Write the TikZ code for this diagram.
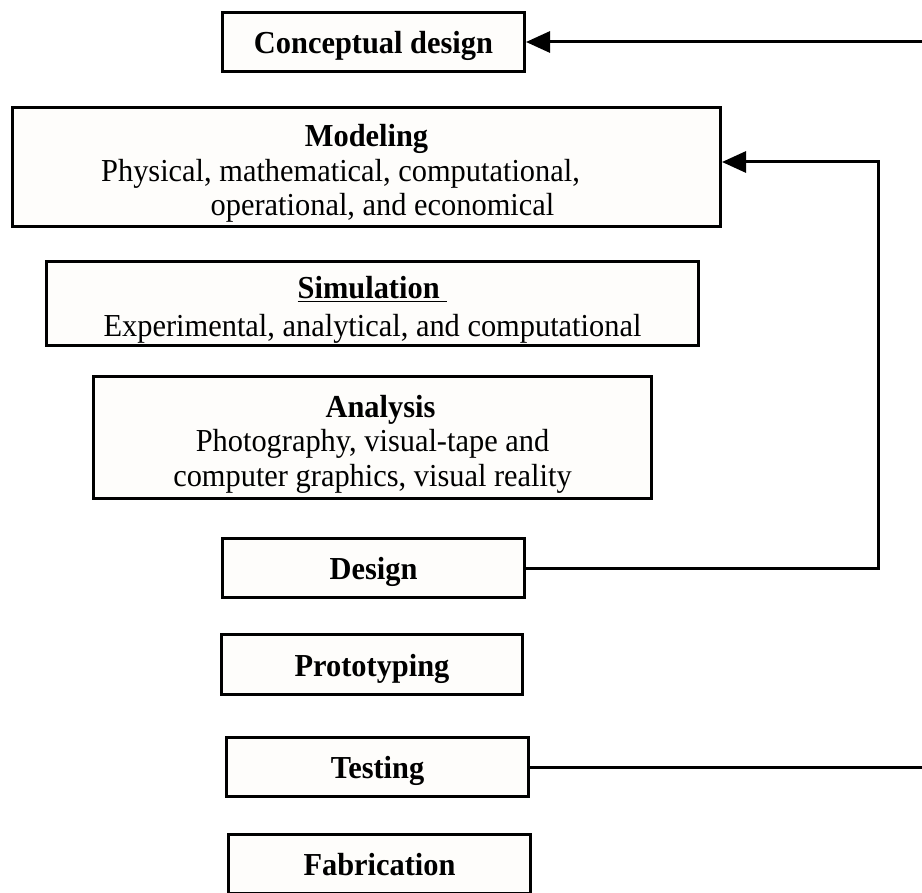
\documentclass[tikz,border=0pt]{standalone}
\usepackage{fontspec}
\setmainfont{Liberation Serif}[FakeStretch=0.95]
\usetikzlibrary{arrows.meta}
\definecolor{boxfill}{RGB}{254,253,251}
\begin{document}
\begin{tikzpicture}[x=1pt,y=-1pt,
  box/.style={draw, line width=3pt, fill=boxfill, inner sep=0pt, align=center,
    font=\fontsize{32}{34.5}\selectfont, text depth=0pt},
  single/.style={box, minimum width=302pt, minimum height=59pt, text height=23pt},
  conn/.style={line width=3pt},
  arr/.style={conn, -{Triangle[length=24pt,width=21pt]}}]
\useasboundingbox (0,0) rectangle (922,893);
\clip (0,0) rectangle (922,893);
\node[single] (concept) at (373.5,42) {\textbf{Conceptual design}};
\node[box, minimum width=708pt, minimum height=119pt, text height=98pt] (model) at (366.5,167)
  {\textbf{Modeling}\\ Physical, mathematical, computational,\rule{52pt}{0pt}\\ \rule{32pt}{0pt}operational, and economical};
\node[box, minimum width=652pt, minimum height=84pt, text height=67pt] (sim) at (372.5,303.5)
  {\underline{\textbf{Simulation}\ }\\[3.5pt] Experimental, analytical, and computational};
\node[box, minimum width=558pt, minimum height=122pt, text height=97pt] (anal) at (372.5,437.5)
  {\rule{16pt}{0pt}\textbf{Analysis}\\ Photography, visual-tape and\\ computer graphics, visual reality};
\node[single] (design) at (373.5,568) {\textbf{Design}};
\node[single, minimum width=301pt, minimum height=60pt] (proto) at (372,664.5) {\textbf{Prototyping}};
\node[single] (test) at (377.5,767) {\textbf{Testing}};
\node[single] (fab) at (379.5,864) {\textbf{Fabrication}};
\coordinate (cin) at (922,42);
\draw[arr] (cin) -- (concept.east);
\coordinate (loop) at (878,162);
\draw[arr] (design.east) -| (loop) -- (model.east |- loop);
\coordinate (tout) at (922,767);
\draw[conn] (test.east) -- (tout);
\end{tikzpicture}
\end{document}
